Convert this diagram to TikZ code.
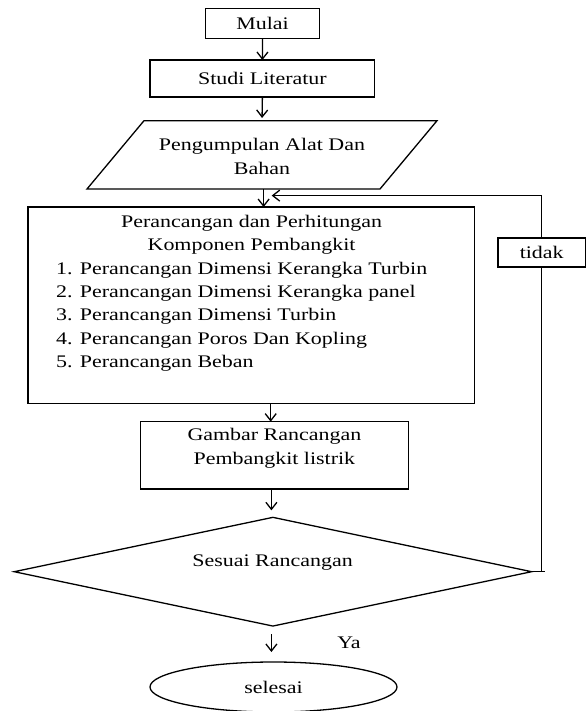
\documentclass[tikz,border=0pt]{standalone}
\usepackage{fontspec}
\setmainfont{Liberation Serif}[FakeStretch=1.24]
\usetikzlibrary{arrows.meta,shapes.geometric}
\begin{document}
\begin{tikzpicture}[x=1pt,y=-1pt,
  every node/.style={font=\fontsize{17.7}{23.3}\selectfont, inner sep=0pt, outer sep=0pt},
  box/.style={draw, line width=1.3pt, fill=white},
  txt/.style={align=center},
  arr/.style={line width=1.3pt, -{Straight Barb[length=7pt,width=11pt,line width=1.3pt]}},
  ln/.style={line width=1.3pt}]
\useasboundingbox (0,0) rectangle (587,711);
% boxes
\node[box, minimum width=114pt, minimum height=30pt] (mulai) at (262.5,23.3) {Mulai};
\node[box, minimum width=224.8pt, minimum height=37pt] (studi) at (262.4,78.5) {Studi Literatur};
\coordinate (pTL) at (144,120.7);
\coordinate (pTR) at (437,120.7);
\coordinate (pBR) at (380,189);
\coordinate (pBL) at (87,189);
\draw[ln, line join=miter] (pTL) -- (pTR) -- (pBR) -- (pBL) -- cycle;
\coordinate (paraN) at (262,120.7);
\coordinate (paraS) at (263.6,189);
\node[txt] (paratext) at (262,156.5) {Pengumpulan Alat Dan\\Bahan};
\node[box, minimum width=446.7pt, minimum height=196.3pt] (rancang) at (251.4,305.2) {};
\node[txt] (rancanghead) at (251.6,235) {Perancangan dan Perhitungan\\Komponen Pembangkit};
\node[align=left, anchor=west] (rancanglist) at (56.2,316.5) {1. Perancangan Dimensi Kerangka Turbin\\2. Perancangan Dimensi Kerangka panel\\3. Perancangan Dimensi Turbin\\4. Perancangan Poros Dan Kopling\\5. Perancangan Beban};
\node[box, minimum width=267.7pt, minimum height=67.3pt] (gambar) at (274.6,455.3) {};
\node[txt] (gambartext) at (274.4,448.3) {Gambar Rancangan\\Pembangkit listrik};
\node[box, diamond, minimum width=517.4pt, minimum height=108.7pt] (dec) at (272.9,571.7) {};
\node[txt] (dectext) at (272.6,562.7) {Sesuai Rancangan};
\node[box, ellipse, minimum width=247pt, minimum height=50pt] (selesai) at (273.5,687) {selesai};
\node (ya) at (349,643) {Ya};
% connectors
\draw[arr] (mulai.south) -- (studi.north);
\draw[arr, shorten >=2.7pt] (studi.south) -- (paraN);
\draw[arr] (paraS) -- (paraS |- rancang.north);
\coordinate (r1) at (270.7,0);
\draw[arr] (r1 |- rancang.south) -- (r1 |- gambar.north);
\coordinate (r2) at (271.4,0);
\draw[arr, shorten >=7pt] (r2 |- gambar.south) -- (r2 |- dec.north);
\draw[arr, shorten <=8pt, shorten >=10pt] (r2 |- dec.south) -- (r2 |- selesai.north);
% feedback
\coordinate (fbbot) at (541.7,571.7);
\coordinate (fbtick) at (545,571.7);
\coordinate (fbtop) at (541.7,195.6);
\coordinate (fbend) at (271.7,195.6);
\draw[ln] (dec.east) -- (fbtick);
\draw[arr] (fbbot) -- (fbtop) -- (fbend);
\node[box, minimum width=87.5pt, minimum height=29pt] (tidak) at (541.7,252.5) {tidak};
\end{tikzpicture}
\end{document}
